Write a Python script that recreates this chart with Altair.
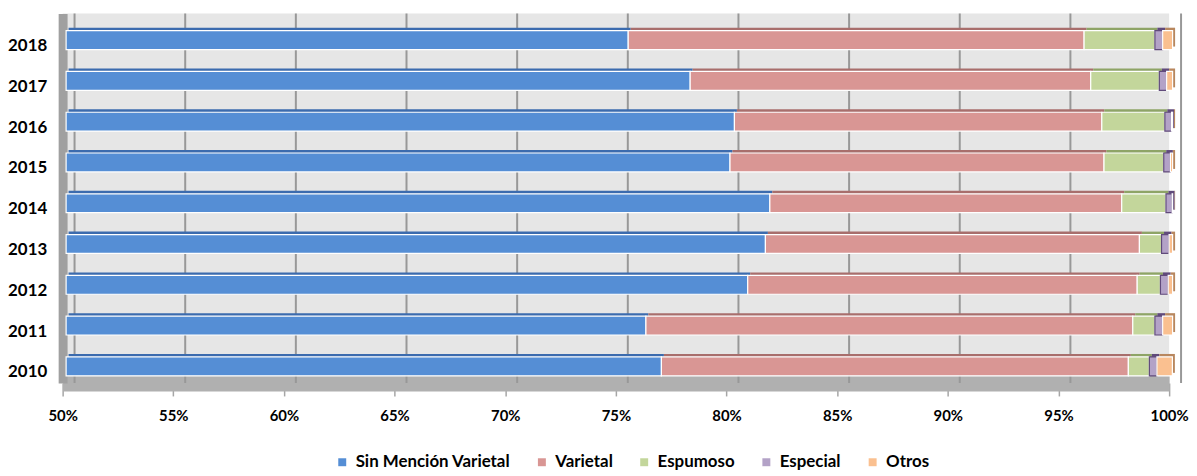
import altair as alt
import pandas as pd

years = ["2018", "2017", "2016", "2015", "2014", "2013", "2012", "2011", "2010"]
categories = ["Sin Mención Varietal", "Varietal", "Espumoso", "Especial", "Otros"]
sin_mencion = [75.4, 78.2, 80.2, 80.0, 81.8, 81.6, 80.8, 76.2, 76.9]
varietal = [20.6, 18.1, 16.6, 16.9, 15.9, 16.9, 17.6, 22.0, 21.1]
espumoso = [3.2, 3.1, 2.85, 2.7, 2.0, 1.0, 1.05, 1.0, 0.95]
especial = [0.35, 0.33, 0.30, 0.30, 0.28, 0.34, 0.35, 0.35, 0.34]
otros = [0.45, 0.27, 0.05, 0.10, 0.02, 0.16, 0.20, 0.45, 0.70]
tick_values = [0.5, 0.55, 0.6, 0.65, 0.7, 0.75, 0.8, 0.85, 0.9, 0.95, 1.0]

colors = ["#558ED5", "#D99694", "#C3D69B", "#B3A2C7", "#FAC090"]
top_colors = ["#3B6BAE", "#A86E6C", "#8EA466", "#604A7B", "#B8875E"]
strokes = ["#FFFFFF", "#FFFFFF", "#FFFFFF", "#604A7B", "#FFFFFF"]

series = [sin_mencion, varietal, espumoso, especial, otros]
rows = []
for ci, (cat, vals) in enumerate(zip(categories, series)):
    for y, v in zip(years, vals):
        rows.append({"year": y, "cat": cat, "ord": ci, "value": v / 100.0})
df = pd.DataFrame(rows)
grid_df = pd.DataFrame({"v": tick_values})

FONT = "Lato"
xscale = alt.Scale(domain=[0.5, 1.0], nice=False, zero=False, clamp=True)
yscale = alt.Scale(paddingInner=0, paddingOuter=0.03)

grid = alt.Chart(grid_df).mark_rule(color="#989898", strokeWidth=2, xOffset=12).encode(
    x=alt.X("v:Q", scale=xscale,
            axis=alt.Axis(values=tick_values, format=".0%", labelFont=FONT, labelFontSize=15,
                          labelFontWeight="bold", labelColor="#000000", grid=False,
                          ticks=True, tickSize=13, tickColor="#A6A6A6", tickWidth=1.5,
                          labelFlush=False, labelOverlap=False,
                          domain=True, domainColor="#B0B0B0", domainWidth=16, labelPadding=13,
                          title=None))
)

top = alt.Chart(df).mark_bar(size=19, yOffset=2, y2Offset=2, xOffset=6, x2Offset=6).encode(
    y=alt.Y("year:N", sort=years, scale=yscale),
    x=alt.X("sum(value):Q", scale=xscale, stack="zero"),
    color=alt.Color("cat:N", scale=alt.Scale(domain=categories, range=top_colors), legend=None),
    order=alt.Order("ord:Q"),
)

bars = alt.Chart(df).mark_bar(size=19, strokeWidth=1.2, yOffset=5, y2Offset=5,
                              xOffset=3.5, x2Offset=3.5).encode(
    y=alt.Y("year:N", sort=years, scale=yscale,
            axis=alt.Axis(title=None, labelFont=FONT, labelFontSize=17, labelFontWeight="bold",
                          labelColor="#000000", ticks=False, labelPadding=16, labelOffset=11,
                          domain=True, domainColor="#A0A0A0", domainWidth=9)),
    x=alt.X("sum(value):Q", scale=xscale, stack="zero", title=None),
    color=alt.Color("cat:N", scale=alt.Scale(domain=categories, range=colors),
                    legend=alt.Legend(title=None, orient="none", direction="horizontal",
                                      legendX=273, legendY=443, symbolType="square",
                                      symbolSize=64, labelFont=FONT, labelFontSize=17,
                                      labelFontWeight="bold", labelColor="#000000",
                                      columnPadding=23, labelOffset=5, symbolStrokeWidth=0)),
    stroke=alt.Stroke("cat:N", scale=alt.Scale(domain=categories, range=strokes), legend=None),
    order=alt.Order("ord:Q"),
)

chart = alt.layer(grid, top, bars).resolve_scale(color="independent").properties(
    width=1114, height=372,
    autosize=alt.AutoSizeParams(type="none"),
    padding={"left": 55, "top": 4, "right": 20, "bottom": 86},
    background="#FFFFFF",
).configure_view(fill="#E6E6E6", stroke=None)

chart.save("out.html", embed_options={"renderer": "svg", "actions": False})
